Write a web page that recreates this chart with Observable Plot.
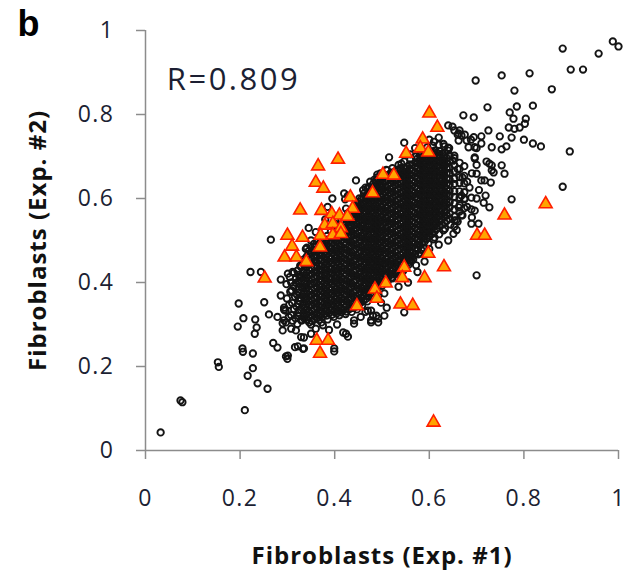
<!DOCTYPE html>
<html><head><meta charset="utf-8">
<script src="https://cdn.jsdelivr.net/npm/d3@7"></script>
<script src="https://cdn.jsdelivr.net/npm/@observablehq/plot@0.6"></script>
<style>
body{margin:0;background:#fff;}
#chart{position:relative;width:635px;height:577px;}
</style></head><body><div id="chart"></div>
<script>
// ---- data (values in thousandths) ----
const xTicks = [0, 0.2, 0.4, 0.6, 0.8, 1];
const yTicks = [0, 0.2, 0.4, 0.6, 0.8, 1];
const panelLetter = ["b"];
const correlationLabel = ["R=0.809"];
const xTitle = ["Fibroblasts (Exp. #1)"];
const yTitle = ["Fibroblasts (Exp. #2)"];

// lower-left end of the cloud: "x,y"
const tailCircles = `
297,305 303,318 296,333 304,347 299,362 306,378 298,396 305,413
311,309 308,322 314,337 310,351 316,366 309,381 313,392 318,409 311,425
321,301 317,315 323,328 319,343 325,356 320,371 324,383 318,399 326,413 321,428 327,440
331,310 334,320 328,336 333,346 329,361 335,372 331,387 336,397 330,412 334,423 329,437 333,449`;

// dense core of the cloud: "x: y y y ..."
const coreColumns = [
"341:312 323 336 348 362 372 387 397 412 423 438 449 462",
"352:308 322 332 347 357 371 382 397 407 421 432 446 457 471",
"362:315 325 340 350 364 375 389 399 414 424 438 448 463 473 487",
"373:317 331 341 355 366 380 390 405 415 429 439 454 464 478 491",
"383:321 332 346 356 370 380 395 405 419 430 444 454 469 479 493 502",
"394:323 334 348 358 373 383 397 408 422 432 447 457 471 481 495 507",
"404:326 336 350 361 375 385 399 410 424 434 449 459 473 483 498 508 521",
"414:329 339 353 363 378 388 402 412 427 437 451 462 476 486 501 511 525 534",
"425:331 345 355 369 380 394 404 419 429 443 454 468 478 492 503 517 527 541 550",
"435:339 349 363 373 388 398 412 422 437 447 461 472 486 496 511 521 535 545 559 568",
"446:343 357 367 381 392 406 416 430 441 455 465 480 490 504 514 529 539 553 563 577 585",
"456:353 363 377 387 402 412 426 436 451 461 475 485 500 510 524 534 549 559 573 583 598",
"466:361 375 385 399 409 424 434 448 458 473 483 497 507 522 532 546 556 570 581 595 605",
"477:375 385 399 409 423 434 448 458 472 483 497 507 521 532 546 556 570 581 595 605 619",
"487:387 401 411 425 435 450 460 474 484 498 509 523 533 547 557 572 582 596 606 620 630 642",
"497:399 409 423 433 448 458 472 482 496 507 521 531 545 555 570 580 594 604 618 628 642 651",
"508:407 421 431 446 456 470 480 494 505 519 529 543 553 568 578 592 602 616 627 641 653",
"518:418 428 442 453 467 477 491 501 516 526 540 550 564 575 589 599 613 623 637 647 660",
"528:423 437 447 461 472 486 496 510 520 535 545 559 569 583 593 608 618 632 642 656 664",
"539:431 441 455 466 480 490 504 514 529 539 553 563 577 587 602 612 626 636 650 660 672",
"549:439 453 463 477 487 502 512 526 536 550 561 575 585 599 609 623 633 648 658 670",
"559:453 463 477 487 501 512 526 536 550 560 575 585 599 609 623 633 647 657 671 681",
"570:468 482 492 506 516 530 541 555 565 579 589 603 613 628 638 652 662 676 686",
"580:488 498 512 522 536 547 561 571 585 595 609 619 634 644 658 668 682 692 703",
"590:497 511 521 535 546 560 570 584 594 608 619 633 643 657 667 681 691 705",
"601:511 521 535 545 559 569 584 594 608 618 632 642 656 666 680 690 704 712",
"611:521 535 545 559 569 583 593 608 618 632 642 656 666 680 690 704 714",
"622:535 545 559 569 583 593 607 617 631 641 655 665 679 689 703 713",
"632:542 557 567 581 591 605 615 629 639 653 663 677 687 701 710",
"643:552 564 579 591 607 618 634 645 661 673 689 702",
"653:557 574 588 604 617 635 647 665 679 696",
"664:569 584 602 617 637 651 670 685",
"674:577 598 615 636 654 677"
];

// further points packed in between, where the cloud is solid black
const coreColumnsInner = [
"324:320 334 348 363 376 390 404 418",
"335:315 328 341 353 366 379 391 404 417 430 443 455",
"346:305 317 330 342 355 367 380 392 405 417 430 443 455 466",
"357:312 324 337 350 362 374 386 399 412 424 437 450 462 476",
"367:311 322 334 345 358 370 383 394 407 419 431 443 456 468 480 492",
"378:324 337 349 361 373 385 398 410 422 434 447 459 471 484 497",
"388:327 340 351 363 375 388 400 412 424 437 449 462 474 486 498",
"399:330 342 354 366 378 391 403 415 428 440 452 465 476 489 501 514",
"409:332 344 357 369 381 393 406 418 430 442 455 467 479 491 504 516 527",
"419:335 347 360 372 384 396 408 421 433 445 457 470 482 494 507 519 530 541",
"430:336 350 361 375 386 400 411 425 435 449 460 474 485 499 509 523 533 547 556",
"440:340 352 366 376 391 401 415 425 440 450 464 474 489 499 513 524 538 548 562 572",
"451:348 361 372 386 396 411 421 435 446 460 470 484 495 509 519 533 544 558 568 580 592",
"461:357 369 381 393 406 418 430 442 455 467 479 491 504 516 528 540 553 565 577 589 601",
"471:367 380 391 404 415 429 440 453 464 477 489 502 513 526 538 551 562 575 587 599 611",
"482:381 392 405 416 429 441 454 465 478 490 503 514 527 539 551 563 576 588 600 612 624 635",
"492:393 404 417 429 441 453 466 478 490 503 515 527 539 551 564 576 588 600 613 624 636 646",
"502:403 416 427 440 451 464 476 488 500 513 524 537 549 561 573 586 598 610 622 634 647",
"513:412 425 437 449 461 473 486 497 510 522 535 546 559 571 583 596 607 620 632 644 656",
"523:420 432 445 456 469 481 493 505 518 530 542 554 566 579 591 603 615 627 639 651 662",
"533:427 439 451 463 476 488 500 512 524 537 549 561 573 585 597 610 622 634 646 658 668",
"544:435 447 459 471 484 496 508 520 532 545 557 569 581 593 605 617 629 642 654 665",
"554:446 458 470 482 494 507 519 531 543 555 567 580 592 604 616 628 640 652 664 676",
"564:460 472 484 497 509 521 533 545 557 570 582 594 606 618 630 643 655 667 679",
"575:478 490 502 514 526 538 551 563 575 587 599 611 623 636 648 660 672 684 695",
"585:493 505 517 529 541 553 565 577 590 602 614 626 638 650 662 674 686 698",
"595:504 516 528 540 552 564 577 589 601 613 625 637 649 661 673 685 697 709",
"606:516 528 540 552 564 576 588 600 612 625 637 649 661 673 685 697 709",
"616:528 540 552 564 576 588 600 612 624 636 648 661 673 685 697 709",
"627:538 550 562 575 587 599 611 623 635 647 659 671 683 695 707",
"637:547 560 572 586 598 611 623 636 648 660 672 684 696"
];

// ragged edges of the core: "x,y"
const edgeCircles = `
345,475 358,486 371,500 384,511 392,522 404,532 417,542 428,565 441,578 452,600
462,612 473,628 484,645 497,660 509,668 522,672 535,680 547,688 560,693 571,700
583,712 596,722 607,726 620,728 630,730
372,305 385,312 398,318 410,322 423,325 436,330 447,336 458,345 469,355 480,367
490,380 500,392 512,402 522,410 534,420 545,428 556,442 566,455 577,467 588,482
598,493 609,503 621,515 633,528 645,538 657,548 668,560`;

// scattered circles around the core: "x,y"
const fringeCircles = `
32,43 74,119 78,115 153,210 155,199 210,96 237,160 258,147 216,178 227,196
205,243 206,235 227,231 195,295 207,315 197,350 232,312 235,293 231,278 251,353
270,256 279,245 261,324 279,318 293,335 290,303 297,224 300,218 316,246 333,242
222,425 244,425 286,407 301,421 314,423 265,502 339,480 356,492 308,400 286,369
293,340 293,310 318,286 335,269 290,286 329,310 308,290 329,270 350,278 375,298
424,278 428,271 441,302 477,305 492,305 505,321 547,329 481,321 322,248 335,243
399,243 399,236 301,226 418,281 441,310 477,310 492,314 477,333 470,333 350,300
360,290 388,287 405,300 455,318 465,330
568,493 583,478 562,452 572,441 547,460 530,429 520,412 505,374 492,369 488,321
510,340 498,352 535,390 555,400 575,425 590,450 611,507 630,524 651,516 658,525
653,533 700,417 600,480 620,490 640,500 580,470 560,470 525,455 515,445 540,420
988,974 1000,962 882,957 958,945 899,907 925,907 812,898 753,893 698,881 780,857
859,860 723,817 785,819 819,821 770,805 694,793 778,790 804,790 802,778 649,771
768,769 780,766 791,769 725,762 664,762 668,750 694,746 710,748 749,748 774,745
800,740 819,731 836,724 679,738 696,722 732,722 753,717 763,724 897,712 640,721
653,702 696,695 721,688 732,679 753,679 736,662 759,659 700,659 717,643 730,638
685,626 882,628 719,607 774,598 727,579 696,571 689,540 704,540 640,774 672,798
547,733 515,698 541,683 630,688 727,683 732,667 710,643 689,574 653,548 662,579
668,607 689,602 683,722 662,738 710,731 696,698 640,714 653,762 660,752 632,724
642,720 662,755 675,752 688,740 700,720 445,643 465,626 490,657 420,612 422,598
490,650 511,667 469,624 428,607 424,576 450,588 414,548 439,555 435,531 456,540
400,540 380,550 360,520 350,500 341,483 345,530 385,580 395,600 460,620 475,640
560,705 570,720 610,735 620,745 600,740 650,690 660,670 670,650 680,640 690,660
700,680 705,620 715,590 700,600 675,600 680,580 670,560 660,545 690,555`;

// highlighted genes (triangles): "x,y"
const flaggedTriangles = `
600,803 617,769 586,741 581,720 598,710 551,707 407,693 365,677 360,638 376,624
502,657 525,655 480,613 433,603 438,576 327,572 372,571 394,563 410,560 427,557
379,536 396,540 413,530 300,512 332,507 370,512 396,513 413,516 310,486 369,484
294,460 319,460 340,449 252,410 598,469 631,437 547,436 543,411 590,411 508,398
485,384 489,362 447,344 539,348 565,345 362,262 386,262 369,231 609,67 701,512
717,512 759,560 846,587`;

// ---- parsing ----
function parsePairs(s) {
  return s.trim().split(/\s+/).map(p => { const [a, b] = p.split(","); return {x: +a / 1000, y: +b / 1000}; });
}
function parseColumns(cols) {
  return cols.flatMap(c => {
    const [xs, ys] = c.split(":");
    return ys.trim().split(/\s+/).map(y => ({x: +xs / 1000, y: +y / 1000}));
  });
}
const circles = parsePairs(tailCircles)
  .concat(parseColumns(coreColumns))
  .concat(parseColumns(coreColumnsInner))
  .concat(parsePairs(edgeCircles))
  .concat(parsePairs(fringeCircles));
const triangles = parsePairs(flaggedTriangles);

const font = "'Open Sans', sans-serif";
const axisGrey = "#8c8c8c";
const textColor = "#1c1f33";

const plot = Plot.plot({
  width: 635, height: 577,
  marginLeft: 145, marginRight: 17, marginTop: 30, marginBottom: 127,
  x: {domain: [0, 1]},
  y: {domain: [0, 1]},
  style: {fontFamily: font, background: "#fff", color: textColor, overflow: "visible"},
  marks: [
    Plot.axisX({ticks: xTicks, tickSize: 9, tickPadding: 30, tickFormat: d => String(d), fontSize: 23, stroke: axisGrey, strokeWidth: 1.5, label: null}),
    Plot.axisY({ticks: yTicks, tickSize: 9, tickPadding: 22, tickFormat: d => String(d), fontSize: 23, stroke: axisGrey, strokeWidth: 1.5, label: null}),
    Plot.ruleY([0], {stroke: axisGrey, strokeWidth: 1.5}),
    Plot.ruleX([0], {stroke: axisGrey, strokeWidth: 1.5}),
    Plot.dot(circles, {x: "x", y: "y", r: 3.2, stroke: "#141414", strokeWidth: 1.9, fill: "none"}),
    Plot.dot(triangles, {x: "x", y: "y", symbol: "triangle", r: 4.8, fill: "#ffa400", stroke: "#ff1e00", strokeWidth: 1.6}),
    Plot.text(correlationLabel, {text: d => d, x: () => 0.045, y: () => 0.882, textAnchor: "start", lineAnchor: "middle", fontSize: 31, fill: textColor}),
    Plot.text(xTitle, {text: d => d, frameAnchor: "bottom", dy: 106, textAnchor: "middle", lineAnchor: "middle", fontSize: 24, fontWeight: "bold", fill: "#111"}),
    Plot.text(yTitle, {text: d => d, frameAnchor: "left", dx: -107, rotate: -90, textAnchor: "middle", lineAnchor: "middle", fontSize: 24, fontWeight: "bold", fill: "#111"}),
    Plot.text(panelLetter, {text: d => d, frameAnchor: "top-left", dx: -128, dy: -20, textAnchor: "start", lineAnchor: "top", fontSize: 36, fontWeight: "bold", fontFamily: "'Liberation Sans', Arial, sans-serif", fill: "#000"})
  ]
});
document.getElementById("chart").appendChild(plot);
// the reference lettering is slightly wider than these fonts
d3.select(plot).selectAll('g[aria-label="x-axis tick label"] text, g[aria-label="y-axis tick label"] text').style("letter-spacing", "1.5px");
d3.select(plot).selectAll('g[aria-label="text"] text').each(function() {
  const t = this.textContent;
  if (t === correlationLabel[0]) this.style.letterSpacing = "2.5px";
  if (t === xTitle[0] || t === yTitle[0]) this.style.letterSpacing = "1px";
});
</script>
</body></html>
